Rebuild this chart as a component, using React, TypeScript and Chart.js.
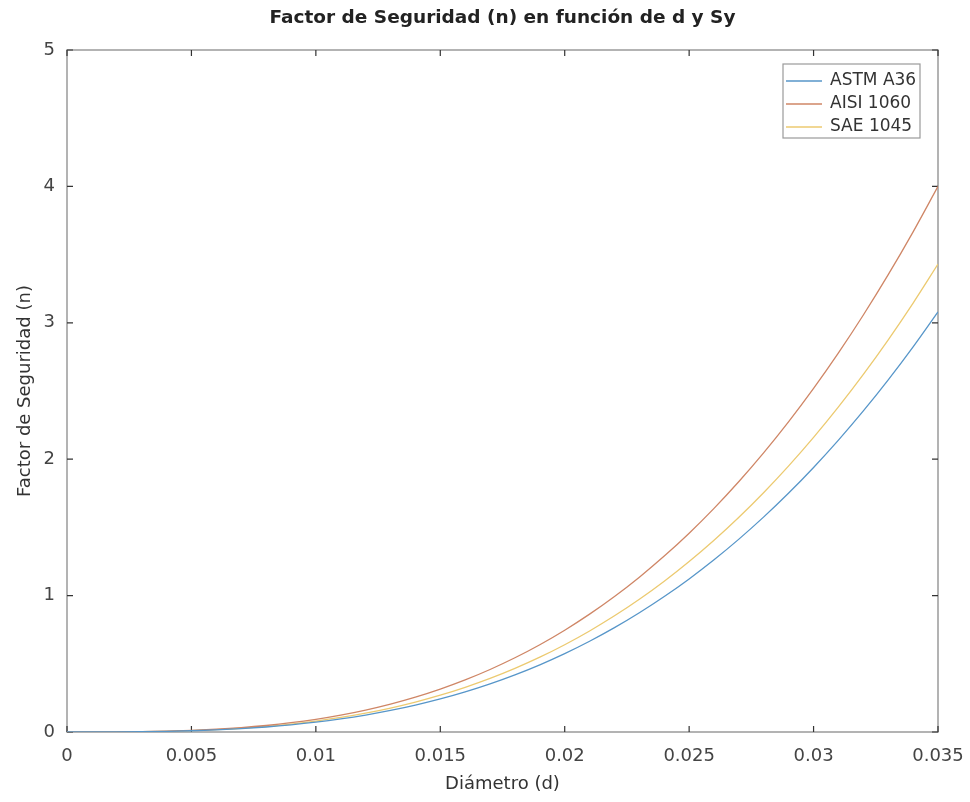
import React, { useEffect, useRef } from "react";
import { Chart, registerables } from "chart.js";

Chart.register(...registerables);

const chartTitle = "Factor de Seguridad (n) en función de d y Sy";
const xTitle = "Diámetro (d)";
const yTitle = "Factor de Seguridad (n)";

const diameters = [
  0, 0.001, 0.002, 0.003, 0.004, 0.005, 0.006, 0.007, 0.008, 0.009, 0.01, 0.011,
  0.012, 0.013, 0.014, 0.015, 0.016, 0.017, 0.018, 0.019, 0.02, 0.021, 0.022,
  0.023, 0.024, 0.025, 0.026, 0.027, 0.028, 0.029, 0.03, 0.031, 0.032, 0.033,
  0.034, 0.035,
];

const astmA36 = [
  0, 0.0001, 0.0006, 0.0019, 0.0046, 0.009, 0.0155, 0.0246, 0.0368, 0.0524,
  0.0718, 0.0956, 0.1241, 0.1578, 0.1971, 0.2424, 0.2942, 0.3529, 0.419, 0.4927,
  0.5747, 0.6653, 0.7649, 0.874, 0.9931, 1.1224, 1.2626, 1.414, 1.577, 1.752,
  1.9396, 2.1401, 2.354, 2.5816, 2.8235, 3.08,
];

const aisi1060 = [
  0, 0.0001, 0.0007, 0.0025, 0.006, 0.0117, 0.0202, 0.032, 0.0478, 0.068,
  0.0933, 0.1242, 0.1612, 0.205, 0.256, 0.3149, 0.3821, 0.4584, 0.5441, 0.6399,
  0.7464, 0.864, 0.9934, 1.1351, 1.2897, 1.4577, 1.6397, 1.8363, 2.048, 2.2754,
  2.519, 2.7793, 3.0571, 3.3527, 3.6668, 4.0,
];

const sae1045 = [
  0, 0.0001, 0.0006, 0.0022, 0.0051, 0.01, 0.0173, 0.0274, 0.041, 0.0583, 0.08,
  0.1065, 0.1382, 0.1758, 0.2195, 0.27, 0.3277, 0.393, 0.4666, 0.5487, 0.64,
  0.7409, 0.8518, 0.9734, 1.1059, 1.25, 1.4061, 1.5746, 1.7562, 1.9511, 2.16,
  2.3833, 2.6214, 2.875, 3.1443, 3.43,
];

const seriesNames = ["ASTM A36", "AISI 1060", "SAE 1045"];
const seriesColors = ["#5796c9", "#cf8666", "#ecca70"];

const xTicks = [0, 0.005, 0.01, 0.015, 0.02, 0.025, 0.03, 0.035];
const yTicks = [0, 1, 2, 3, 4, 5];

const FONT = "'DejaVu Sans', 'Liberation Sans', sans-serif";

const framePlugin = {
  id: "octaveFrame",
  beforeDatasetsDraw(chart: any) {
    const { ctx, chartArea } = chart;
    const { left, right, top, bottom } = chartArea;
    const xs = chart.scales.x;
    const ys = chart.scales.y;
    ctx.save();
    ctx.strokeStyle = "#9a9a9a";
    ctx.lineWidth = 1.5;
    ctx.strokeRect(left, top, right - left, bottom - top);
    ctx.strokeStyle = "#333333";
    ctx.lineWidth = 1.2;
    const tl = 6;
    ctx.beginPath();
    xTicks.forEach((v) => {
      const px = xs.getPixelForValue(v);
      ctx.moveTo(px, bottom);
      ctx.lineTo(px, bottom - tl);
      ctx.moveTo(px, top);
      ctx.lineTo(px, top + tl);
    });
    yTicks.forEach((v) => {
      const py = ys.getPixelForValue(v);
      ctx.moveTo(left, py);
      ctx.lineTo(left + tl, py);
      ctx.moveTo(right, py);
      ctx.lineTo(right - tl, py);
    });
    ctx.stroke();
    ctx.restore();
  },
  afterDraw(chart: any) {
    const { ctx, chartArea } = chart;
    ctx.save();
    // title
    ctx.fillStyle = "#222222";
    ctx.font = `bold 18.5px ${FONT}`;
    ctx.textAlign = "center";
    ctx.textBaseline = "middle";
    ctx.fillText(chartTitle, (chartArea.left + chartArea.right) / 2, 18);

    // legend
    const bx = 783;
    const by = 64;
    const bw = 137;
    const bh = 74;
    ctx.fillStyle = "#ffffff";
    ctx.fillRect(bx, by, bw, bh);
    ctx.strokeStyle = "#9a9a9a";
    ctx.lineWidth = 1.2;
    ctx.strokeRect(bx, by, bw, bh);
    ctx.font = `17px ${FONT}`;
    ctx.textAlign = "left";
    ctx.textBaseline = "middle";
    chart.data.datasets.forEach((ds: any, i: number) => {
      const cy = by + 17 + i * 23;
      ctx.strokeStyle = ds.borderColor;
      ctx.lineWidth = 1.3;
      ctx.beginPath();
      ctx.moveTo(bx + 3, cy);
      ctx.lineTo(bx + 39, cy);
      ctx.stroke();
      ctx.fillStyle = "#333333";
      ctx.fillText(ds.label, bx + 47, cy);
    });
    ctx.restore();
  },
};

export default function App() {
  const canvasRef = useRef<HTMLCanvasElement | null>(null);

  useEffect(() => {
    document.body.style.margin = "0";
    const canvas = canvasRef.current;
    if (!canvas) return;
    const seriesValues = [astmA36, aisi1060, sae1045];
    const chart = new Chart(canvas, {
      type: "line",
      data: {
        datasets: seriesValues.map((vals, i) => ({
          label: seriesNames[i],
          data: diameters.map((d, j) => ({ x: d, y: vals[j] })),
          borderColor: seriesColors[i],
          backgroundColor: seriesColors[i],
          borderWidth: 1.3,
          pointRadius: 0,
          cubicInterpolationMode: "monotone" as const,
          fill: false,
        })),
      },
      options: {
        animation: false,
        responsive: false,
        maintainAspectRatio: false,
        devicePixelRatio: 1,
        layout: { padding: { left: 0, right: 32, top: 50, bottom: 0 } },
        plugins: {
          legend: { display: false },
          title: { display: false },
          tooltip: { enabled: false },
        },
        scales: {
          x: {
            type: "linear",
            min: 0,
            max: 0.035,
            afterBuildTicks: (scale: any) => {
              scale.ticks = xTicks.map((v) => ({ value: v }));
            },
            afterFit: (scale: any) => {
              scale.height = 70;
              scale.paddingRight = 0;
              scale.paddingLeft = 0;
            },
            grid: { display: false, drawTicks: false },
            border: { display: false },
            ticks: {
              padding: 14,
              color: "#444444",
              font: { family: FONT, size: 18 },
              maxRotation: 0,
              autoSkip: false,
              callback: (v: any) => String(Number(Number(v).toFixed(3))),
            },
            title: {
              display: true,
              text: xTitle,
              color: "#333333",
              font: { family: FONT, size: 18 },
              padding: { top: 0, bottom: 7 },
            },
          },
          y: {
            type: "linear",
            min: 0,
            max: 5,
            afterBuildTicks: (scale: any) => {
              scale.ticks = yTicks.map((v) => ({ value: v }));
            },
            afterFit: (scale: any) => {
              scale.width = 67;
              scale.paddingTop = 0;
              scale.paddingBottom = 0;
            },
            grid: { display: false, drawTicks: false },
            border: { display: false },
            ticks: {
              padding: 12,
              color: "#444444",
              font: { family: FONT, size: 18 },
              autoSkip: false,
              callback: (v: any) => String(v),
            },
            title: {
              display: true,
              text: yTitle,
              color: "#333333",
              font: { family: FONT, size: 18 },
              padding: { top: 15, bottom: 0 },
            },
          },
        },
      },
      plugins: [framePlugin],
    });
    return () => chart.destroy();
  }, []);

  return (
    <div style={{ width: 970, height: 802, background: "#ffffff" }}>
      <canvas ref={canvasRef} width={970} height={802} style={{ display: "block" }} />
    </div>
  );
}
